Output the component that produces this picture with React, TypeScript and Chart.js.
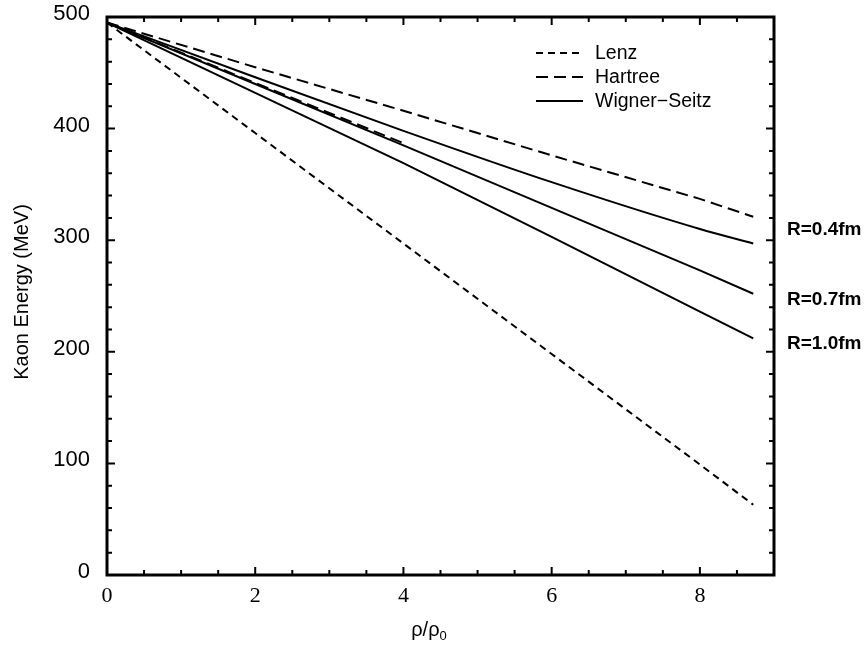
import React, { useEffect, useRef } from "react";
import { Chart, registerables } from "chart.js";

Chart.register(...registerables);

// density ratio rho/rho0
const rho = [0, 2, 4, 6, 8, 8.72];
const lenz = [495, 396, 297, 198, 99, 63];
const hartree = [495, 455, 416, 376, 337, 321];
const ws04 = [495, 446, 398, 352, 310, 297];
const ws07 = [495, 440, 385, 329, 273, 252];
const ws10 = [495, 432, 369, 303, 236, 212];
const rhoShort = [0, 1, 2, 3, 4];
const hartreeInner = [495, 468, 441, 414, 387];

const legendItems = ["Lenz", "Hartree", "Wigner\u2212Seitz"];
const radiusLabels = ["R=0.4fm", "R=0.7fm", "R=1.0fm"];
const radiusLabelValues = [309, 247, 207];
const xTicks = [0, 2, 4, 6, 8];

const LENZ_DASH = [7, 5];
const HARTREE_DASH = [12, 6];

const SANS = "'Liberation Sans', Arial, Helvetica, sans-serif";
const SERIF = "'Liberation Serif', 'Times New Roman', serif";

const pts = (xs: number[], ys: number[]) => xs.map((x, i) => ({ x, y: ys[i] }));

const decorPlugin = {
  id: "decor",
  afterDatasetsDraw(chart: any) {
    const { ctx, chartArea } = chart;
    const xs = chart.scales.x;
    const ys = chart.scales.y;
    const { left, right, top, bottom } = chartArea;
    ctx.save();
    ctx.strokeStyle = "#000";
    ctx.fillStyle = "#000";
    // frame
    ctx.lineWidth = 3;
    ctx.setLineDash([]);
    ctx.strokeRect(left, top, right - left, bottom - top);
    // ticks
    ctx.lineWidth = 2;
    ctx.beginPath();
    for (let v = 0; v <= 500; v += 20) {
      const p = ys.getPixelForValue(v);
      const len = v % 100 === 0 ? 8 : 5;
      ctx.moveTo(left, p);
      ctx.lineTo(left + len, p);
      ctx.moveTo(right, p);
      ctx.lineTo(right - len, p);
    }
    for (let v = 0; v <= 9.001; v += 0.5) {
      const p = xs.getPixelForValue(v);
      const len = Math.abs(v % 2) < 1e-6 ? 8 : 5;
      ctx.moveTo(p, bottom);
      ctx.lineTo(p, bottom - len);
      ctx.moveTo(p, top);
      ctx.lineTo(p, top + len);
    }
    ctx.stroke();

    // legend
    const dashes = [LENZ_DASH, HARTREE_DASH, []];
    const rowsY = [53, 77, 101];
    ctx.font = `19.5px ${SANS}`;
    ctx.textBaseline = "middle";
    ctx.textAlign = "left";
    legendItems.forEach((t, i) => {
      ctx.lineWidth = 2;
      ctx.setLineDash(dashes[i]);
      ctx.beginPath();
      ctx.moveTo(536, rowsY[i]);
      ctx.lineTo(583, rowsY[i]);
      ctx.stroke();
      ctx.setLineDash([]);
      ctx.fillText(t, 595, rowsY[i] + 1);
    });

    // radius labels
    ctx.font = `bold 19px ${SANS}`;
    radiusLabels.forEach((t, i) => {
      ctx.fillText(t, right + 13, ys.getPixelForValue(radiusLabelValues[i]));
    });

    // axis titles
    ctx.font = `20px ${SANS}`;
    ctx.save();
    ctx.translate(22, (top + bottom) / 2 - 4);
    ctx.rotate(-Math.PI / 2);
    ctx.textAlign = "center";
    ctx.fillText("Kaon Energy (MeV)", 0, 0);
    ctx.restore();

    const main = "\u03c1/\u03c1";
    ctx.font = `20px ${SANS}`;
    const w1 = ctx.measureText(main).width;
    ctx.font = `13px ${SANS}`;
    const w2 = ctx.measureText("0").width;
    const startX = 429 - (w1 + w2) / 2;
    ctx.textAlign = "left";
    ctx.font = `20px ${SANS}`;
    ctx.fillText(main, startX, 630);
    ctx.font = `13px ${SANS}`;
    ctx.fillText("0", startX + w1, 636);
    ctx.restore();
  },
};

export default function App() {
  const ref = useRef<HTMLCanvasElement>(null);
  useEffect(() => {
    if (!ref.current) return;
    const base = { borderColor: "#000", borderWidth: 2, pointRadius: 0, fill: false, tension: 0 };
    const chart = new Chart(ref.current, {
      type: "line",
      data: {
        datasets: [
          { ...base, label: "Lenz", data: pts(rho, lenz), borderDash: LENZ_DASH },
          { ...base, label: "Hartree", data: pts(rho, hartree), borderDash: HARTREE_DASH },
          { ...base, label: "Hartree (inner)", data: pts(rhoShort, hartreeInner), borderDash: HARTREE_DASH },
          { ...base, label: "Wigner-Seitz R=0.4fm", data: pts(rho, ws04), cubicInterpolationMode: "monotone" as const },
          { ...base, label: "Wigner-Seitz R=0.7fm", data: pts(rho, ws07) },
          { ...base, label: "Wigner-Seitz R=1.0fm", data: pts(rho, ws10) },
        ],
      },
      options: {
        animation: false,
        responsive: false,
        layout: { padding: { top: 17, right: 94, bottom: 0, left: 0 } },
        plugins: { legend: { display: false }, tooltip: { enabled: false } },
        scales: {
          x: {
            type: "linear",
            min: 0,
            max: 9,
            grid: { display: false, drawTicks: false },
            border: { display: false },
            afterBuildTicks: (s: any) => {
              s.ticks = xTicks.map((v) => ({ value: v }));
            },
            afterFit: (s: any) => {
              s.height = 70;
              s.paddingLeft = 0;
              s.paddingRight = 0;
            },
            ticks: {
              autoSkip: false,
              maxRotation: 0,
              padding: 8,
              color: "#000",
              font: { family: SERIF, size: 22 },
            },
          },
          y: {
            type: "linear",
            min: 0,
            max: 500,
            grid: { display: false, drawTicks: false },
            border: { display: false },
            afterFit: (s: any) => {
              s.width = 107;
              s.paddingTop = 0;
              s.paddingBottom = 0;
            },
            ticks: {
              stepSize: 100,
              autoSkip: false,
              padding: 17,
              labelOffset: -3,
              color: "#000",
              font: { family: SANS, size: 22 },
            },
          },
        },
      },
      plugins: [decorPlugin],
    });
    return () => chart.destroy();
  }, []);
  return (
    <div style={{ position: "absolute", left: 0, top: 0, width: 868, height: 645, background: "#fff" }}>
      <canvas ref={ref} width={868} height={645} style={{ display: "block" }} />
    </div>
  );
}
